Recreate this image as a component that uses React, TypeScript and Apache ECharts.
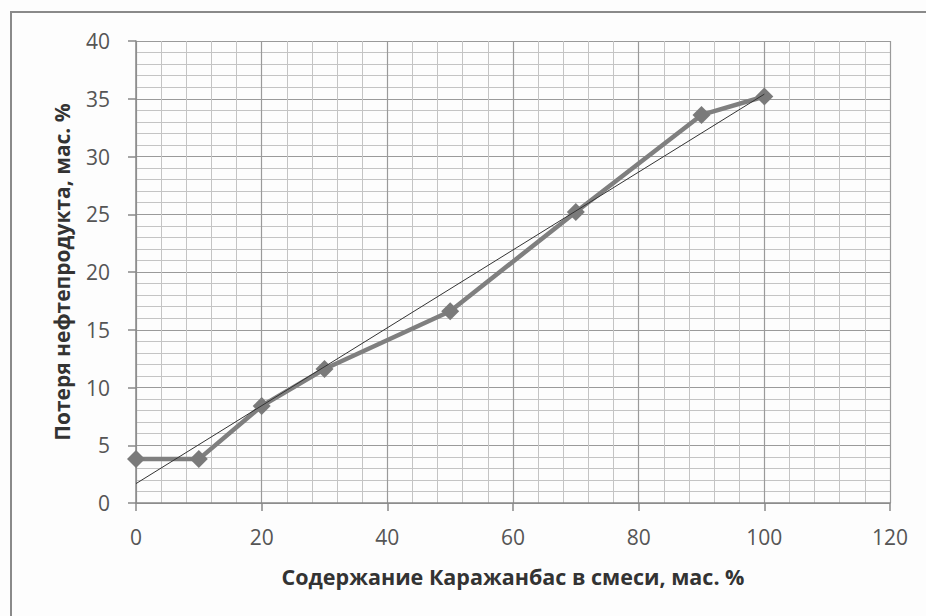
import React, { useEffect, useRef } from "react";
import * as echarts from "echarts";

const xValues = [0, 10, 20, 30, 50, 70, 90, 100];
const lossValues = [3.8, 3.8, 8.4, 11.6, 16.6, 25.2, 33.6, 35.2];
const xTitle = "Содержание Каражанбас в смеси, мас. %";
const yTitle = "Потеря нефтепродукта, мас. %";

function linearFit(xs: number[], ys: number[]) {
  const n = xs.length;
  const mx = xs.reduce((a, b) => a + b, 0) / n;
  const my = ys.reduce((a, b) => a + b, 0) / n;
  let sxy = 0;
  let sxx = 0;
  for (let i = 0; i < n; i++) {
    sxy += (xs[i] - mx) * (ys[i] - my);
    sxx += (xs[i] - mx) * (xs[i] - mx);
  }
  const k = sxy / sxx;
  return { k, b: my - k * mx };
}

export default function App() {
  const ref = useRef<HTMLDivElement>(null);
  useEffect(() => {
    if (!ref.current) return;
    const chart = echarts.init(ref.current, null, { renderer: "svg" });
    const fit = linearFit(xValues, lossValues);
    const xMin = xValues[0];
    const xMax = xValues[xValues.length - 1];
    const trend = [
      [xMin, fit.k * xMin + fit.b],
      [xMax, fit.k * xMax + fit.b],
    ];
    const font = "'Open Sans', 'Noto Sans', sans-serif";
    chart.setOption({
      animation: false,
      backgroundColor: "#fdfdfd",
      textStyle: { fontFamily: font },
      grid: { left: 136, top: 41, right: 36, bottom: 113, containLabel: false },
      xAxis: {
        type: "value",
        min: 0,
        max: 120,
        interval: 20,
        name: xTitle,
        nameLocation: "middle",
        nameGap: 62,
        nameTextStyle: { fontSize: 21.5, fontWeight: "bold", color: "#333", fontFamily: font },
        axisLine: { show: true, lineStyle: { color: "#888", width: 1.5 } },
        axisTick: { show: true, length: 8, lineStyle: { color: "#888", width: 1.5 } },
        axisLabel: { fontSize: 21, color: "#555", margin: 23, fontFamily: font },
        splitLine: { show: true, lineStyle: { color: "#9a9a9a", width: 1.2 } },
        minorTick: { show: false, splitNumber: 5 },
        minorSplitLine: { show: true, lineStyle: { color: "#c4c4c4", width: 1 } },
      },
      yAxis: {
        type: "value",
        min: 0,
        max: 40,
        interval: 5,
        name: yTitle,
        nameLocation: "middle",
        nameGap: 64,
        nameTextStyle: { fontSize: 21, fontWeight: "bold", color: "#333", fontFamily: font },
        axisLine: { show: true, lineStyle: { color: "#888", width: 1.5 } },
        axisTick: { show: true, length: 8, lineStyle: { color: "#888", width: 1.5 } },
        axisLabel: { fontSize: 21, color: "#555", margin: 26, fontFamily: font },
        splitLine: { show: true, lineStyle: { color: "#9a9a9a", width: 1.2 } },
        minorTick: { show: false, splitNumber: 5 },
        minorSplitLine: { show: true, lineStyle: { color: "#c4c4c4", width: 1 } },
      },
      graphic: [
        {
          type: "polyline",
          shape: { points: [[11, 616], [11, 12], [926, 12]] },
          style: { stroke: "#8a8a8a", lineWidth: 2, fill: "none" },
          silent: true,
        },
      ],
      series: [
        {
          type: "line",
          data: trend,
          symbol: "none",
          lineStyle: { color: "#333", width: 1 },
          z: 3,
        },
        {
          type: "line",
          data: xValues.map((x, i) => [x, lossValues[i]]),
          symbol: "diamond",
          symbolSize: 18,
          itemStyle: { color: "#7a7a7a" },
          lineStyle: { color: "#7f7f7f", width: 4.5 },
          z: 2,
        },
      ],
    });
    return () => chart.dispose();
  }, []);
  return (
    <div
      ref={ref}
      style={{ position: "fixed", left: 0, top: 0, width: 926, height: 616 }}
    />
  );
}
